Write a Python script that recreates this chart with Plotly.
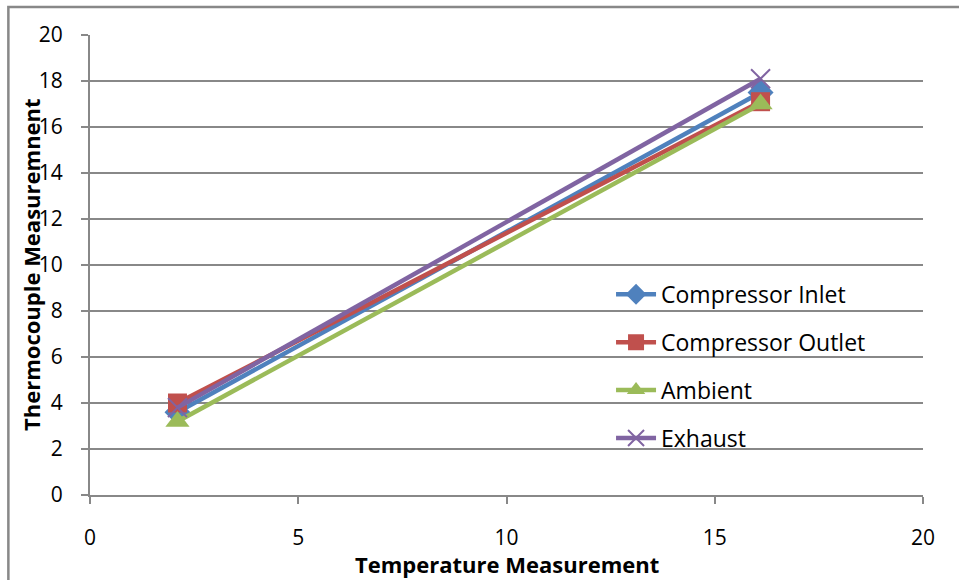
import plotly.graph_objects as go

x_vals = [2.1, 16.1]
compressor_inlet = [3.6, 17.5]
compressor_outlet = [4.0, 17.1]
ambient = [3.2, 17.0]
exhaust = [3.8, 18.1]

x_title = "Temperature Measurement"
y_title = "Thermocouple Measuremnent"

series = [
    ("Compressor Inlet", compressor_inlet, "#4F81BD", "diamond", 20),
    ("Compressor Outlet", compressor_outlet, "#C0504D", "square", 19),
    ("Ambient", ambient, "#9BBB59", "triangle-up", 21),
    ("Exhaust", exhaust, "#8064A2", "x-thin", 19),
]

fig = go.Figure()
for name, ys, color, sym, size in series:
    fig.add_trace(go.Scatter(
        x=x_vals, y=ys, name=name, mode="lines+markers", legendgroup=name,
        line=dict(color=color, width=4.5),
        marker=dict(symbol=sym, size=size, color=color,
                    line=dict(color=color, width=2 if sym == "x-thin" else 0)),
    ))

FONT = "Open Sans, Lato, sans-serif"
axis_font = dict(family=FONT, size=21, color="#000")
title_font = dict(family=FONT, size=22, color="#000")

fig.update_layout(
    width=959, height=580,
    margin=dict(l=90, r=36, t=35, b=85),
    paper_bgcolor="white", plot_bgcolor="white",
    font=axis_font,
    xaxis=dict(
        range=[0, 20], tickvals=[0, 5, 10, 15, 20], showgrid=False,
        showline=True, linecolor="#888", linewidth=2,
        ticks="outside", ticklen=7, tickcolor="#888", tickwidth=2,
        ticklabelstandoff=16, zeroline=False,
    ),
    yaxis=dict(
        range=[0, 20], tickvals=list(range(0, 21, 2)), showgrid=True,
        gridcolor="#888", gridwidth=1.5,
        showline=True, linecolor="#888", linewidth=2,
        ticks="outside", ticklen=7, tickcolor="#888", tickwidth=2,
        ticklabelstandoff=14, zeroline=False,
    ),
    legend=dict(
        x=0.6255, y=0.483, xanchor="left", yanchor="top",
        bgcolor="rgba(0,0,0,0)", font=dict(family=FONT, size=23),
        tracegroupgap=15, itemwidth=40,
    ),
    annotations=[
        dict(text="<b>" + x_title + "</b>", xref="paper", yref="paper",
             x=0.5006, y=-0.15, xanchor="center", yanchor="middle",
             showarrow=False, font=title_font),
        dict(text="<b>" + y_title + "</b>", xref="paper", yref="paper",
             x=-0.0708, y=0.5, xanchor="center", yanchor="middle", textangle=-90,
             showarrow=False, font=title_font),
    ],
    shapes=[dict(type="rect", xref="paper", yref="paper",
                 x0=-0.098, y0=-0.35, x1=1.3, y1=1.061,
                 line=dict(color="#888", width=2.5), fillcolor="rgba(0,0,0,0)", layer="below")],
)

fig.write_html("out.html")
